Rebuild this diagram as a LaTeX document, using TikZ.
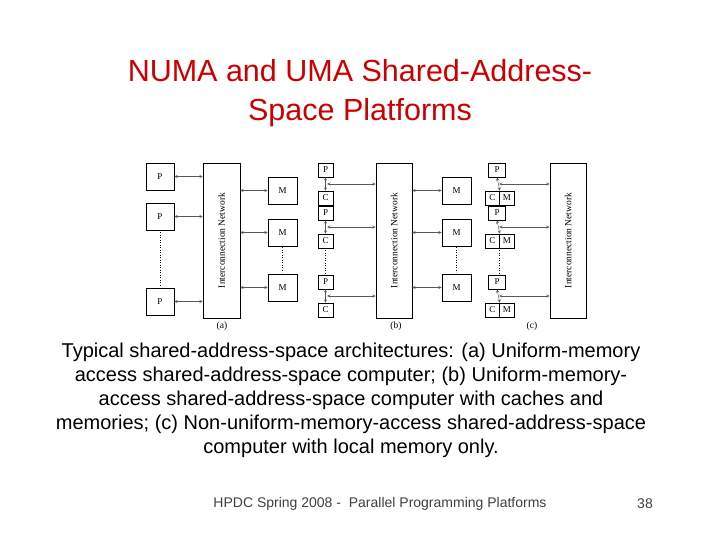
\documentclass[tikz,border=0pt]{standalone}
\usepackage{fontspec}
\setmainfont{Liberation Sans}
\newfontfamily\serif{Liberation Serif}
\begin{document}
\begin{tikzpicture}[x=1pt,y=-1pt,
 bx/.style={draw,line width=0.6pt,fill=white,inner sep=0pt,font=\serif\fontsize{9}{9}\selectfont},
 ar/.style={<->,>=stealth,line width=0.5pt,gray!70!black},
 dt/.style={dotted,line width=0.5pt},
 lab/.style={font=\serif\fontsize{9.5}{9.5}\selectfont}]
\useasboundingbox (0,0) rectangle (720,540);
\node[text=red!80!black,align=center,font=\fontsize{30.5}{39}\selectfont] (title) at (360,93) {NUMA and UMA Shared-Address-\\Space Platforms};
% (a)
\foreach \n/\y in {p1/176.5,p2/216.5,p3/301.5}{\node[bx,minimum width=28pt,minimum height=27pt] (a\n) at (160,\y) {P};}
\foreach \n/\y in {m1/190.5,m2/232.5,m3/287.5}{\node[bx,minimum width=29pt,minimum height=27pt] (a\n) at (282.5,\y) {M};}
\node[bx,minimum width=37pt,minimum height=155pt] (anet) at (221.5,240.5) {};
\node[rotate=90,lab] (anetl) at (anet) {Interconnection Network};
\foreach \n in {p1,p2,p3}{\draw[ar] (a\n.east) -- (a\n.east -| anet.west);}
\foreach \n in {m1,m2,m3}{\draw[ar] (a\n.west -| anet.east) -- (a\n.west);}
\draw[dt] (160,232) -- (160,286); \draw[dt] (282.5,247) -- (282.5,272);
\node[lab] (la) at (222,326) {(a)};
% (b)
\foreach \i/\y in {1/170,2/213,3/282}{\node[bx,minimum width=15pt,minimum height=14pt] (bp\i) at (325.5,\y) {P};
 \node[bx,minimum width=15pt,minimum height=14pt] (bc\i) at (325.5,\y+28) {C};
 \draw[ar] (bp\i.south) -- (bc\i.north);}
\node[bx,minimum width=36pt,minimum height=155pt] (bnet) at (394,240.5) {};
\node[rotate=90,lab] (bnetl) at (bnet) {Interconnection Network};
\foreach \i/\y in {1/184,2/227,3/296}{\coordinate (bj\i) at (327,\y); \draw[ar] (bj\i) -- (bj\i -| bnet.west);}
\foreach \n/\y in {m1/190.5,m2/232.5,m3/287.5}{\node[bx,minimum width=29pt,minimum height=27pt] (b\n) at (456.5,\y) {M};
 \draw[ar] (b\n.west -| bnet.east) -- (b\n.west);}
\draw[dt] (325.5,250) -- (325.5,273); \draw[dt] (456.5,247) -- (456.5,272);
\node[lab] (lb) at (396,326) {(b)};
% (c)
\foreach \i/\y in {1/170,2/213,3/282}{\node[bx,minimum width=17pt,minimum height=14pt] (cp\i) at (497,\y) {P};
 \node[bx,minimum width=14.5pt,minimum height=14pt] (cc\i) at (492.25,\y+28) {C};
 \node[bx,minimum width=14.5pt,minimum height=14pt] (cm\i) at (506.75,\y+28) {M};
 \draw[ar] (cp\i.south) -- (cc\i.north east);}
\node[bx,minimum width=36pt,minimum height=155pt] (cnet) at (568,240.5) {};
\node[rotate=90,lab] (cnetl) at (cnet) {Interconnection Network};
\foreach \i/\y in {1/184,2/227,3/296}{\coordinate (cj\i) at (499,\y); \draw[ar] (cj\i) -- (cj\i -| cnet.west);}
\draw[dt] (499.5,250) -- (499.5,273);
\node[lab] (lc) at (532,326) {(c)};
\node[align=center,font=\fontsize{20}{24}\selectfont] (cap) at (351,400) {Typical shared-address-space architectures: (a) Uniform-memory\\access shared-address-space computer; (b) Uniform-memory-\\access shared-address-space computer with caches and\\memories; (c) Non-uniform-memory-access shared-address-space\\computer with local memory only.};
\node[font=\fontsize{14}{14}\selectfont,text=black!75] (foot) at (380,504) {HPDC Spring 2008 -\ \ Parallel Programming Platforms};
\node[font=\fontsize{14}{14}\selectfont,text=black!75] (pg) at (645,504) {38};
\end{tikzpicture}
\end{document}
